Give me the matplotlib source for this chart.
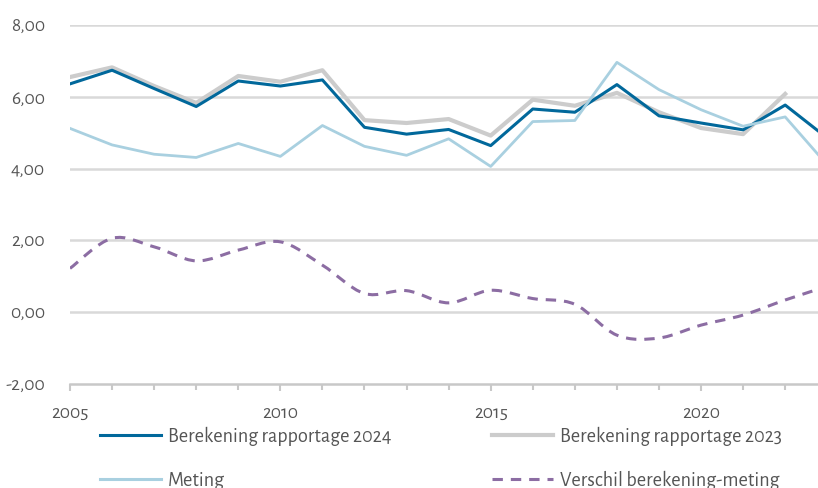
import numpy as np
import matplotlib
matplotlib.use("Agg")
import matplotlib.pyplot as plt
from matplotlib.path import Path
from matplotlib.patches import PathPatch
from matplotlib.lines import Line2D

years = list(range(2005, 2024))
calc_2024 = [6.36, 6.74, 6.23, 5.73, 6.44, 6.30, 6.47, 5.15, 4.96, 5.09,
             4.64, 5.66, 5.57, 6.34, 5.47, 5.27, 5.08, 5.77, 4.85]
calc_2023 = [6.55, 6.82, 6.30, 5.83, 6.58, 6.42, 6.74, 5.35, 5.27, 5.38,
             4.92, 5.92, 5.75, 6.11, 5.57, 5.13, 4.96, 6.08]
meting = [5.12, 4.66, 4.40, 4.31, 4.70, 4.34, 5.20, 4.62, 4.37, 4.83,
          4.06, 5.31, 5.34, 6.96, 6.20, 5.64, 5.18, 5.44, 4.10]
verschil = [1.22, 2.06, 1.82, 1.43, 1.73, 1.96, 1.31, 0.52, 0.60, 0.26,
            0.61, 0.38, 0.22, -0.64, -0.72, -0.36, -0.08, 0.34, 0.72]

labels = ["Berekening rapportage 2024", "Berekening rapportage 2023",
          "Meting", "Verschil berekening-meting"]
c_dark = "#01689b"
c_grey = "#cccccc"
c_light = "#a9d0e0"
c_purple = "#8c6da3"
c_text = "#555555"

plt.rcParams['font.family'] = ['Alegreya Sans', 'DejaVu Sans']
FS = 14
LFS = 14.6


def smooth_path(xs, ys):
    # cubic bezier through the points (Catmull-Rom style control points)
    pts = np.column_stack([xs, ys]).astype(float)
    verts = [pts[0]]
    codes = [Path.MOVETO]
    n = len(pts)
    for i in range(n - 1):
        p0 = pts[i - 1] if i > 0 else pts[i]
        p1 = pts[i]
        p2 = pts[i + 1]
        p3 = pts[i + 2] if i + 2 < n else pts[i + 1]
        verts += [p1 + (p2 - p0) / 6, p2 - (p3 - p1) / 6, p2]
        codes += [Path.CURVE4] * 3
    return Path(verts, codes)


fig = plt.figure(figsize=(8.18, 4.88), dpi=100)
ax = fig.add_axes([70 / 818, 1 - 384 / 488, 1 - 70 / 818, 359 / 488])

ax.plot(years[:len(calc_2023)], calc_2023, color=c_grey, lw=3.0, zorder=3)
ax.plot(years, calc_2024, color=c_dark, lw=2.2, zorder=4)
ax.plot(years, meting, color=c_light, lw=2.0, zorder=5)
ax.add_patch(PathPatch(smooth_path(years, verschil), fill=False,
                       edgecolor=c_purple, lw=2.2, linestyle=(0, (3.4, 2.6)),
                       zorder=6))

ax.set_xlim(2005, 2005 + 748 / 42.07)
ax.set_ylim(-2, 8)
ax.set_yticks(np.arange(-2, 9, 2))
ax.set_yticklabels([f"{v:.2f}".replace(".", ",") for v in np.arange(-2, 9, 2)])
ax.set_xticks([2005, 2010, 2015, 2020])
ax.set_xticks(range(2005, 2023), minor=True)

for v in range(0, 9, 2):
    ax.axhline(v, color="#d9d9d9", lw=1.8, zorder=1)

for s in ["top", "right", "left"]:
    ax.spines[s].set_visible(False)
ax.spines["bottom"].set_color("#c8c8c8")
ax.spines["bottom"].set_linewidth(1.8)
ax.tick_params(axis='y', length=0, pad=18, labelsize=FS, labelcolor=c_text)
ax.tick_params(axis='x', which='both', direction='out', length=5, width=1.5,
               color="#c8c8c8", labelsize=FS, labelcolor=c_text, pad=10)
ax.tick_params(axis='x', which='minor', length=4)

handles = [Line2D([], [], color=c_dark, lw=2.2),
           Line2D([], [], color=c_light, lw=2.2),
           Line2D([], [], color=c_grey, lw=3.0),
           Line2D([], [], color=c_purple, lw=2.2, linestyle=(0, (3.4, 2.6)))]
leg = fig.legend(handles, [labels[0], labels[2], labels[1], labels[3]],
                 ncol=2, loc="upper left", bbox_to_anchor=(100 / 818, 1 - 427 / 488),
                 frameon=False, fontsize=LFS, handlelength=3.0, handletextpad=0.35,
                 columnspacing=4.95, labelspacing=1.22, borderpad=0, borderaxespad=0)
for t in leg.get_texts():
    t.set_color(c_text)

fig.savefig("out.png", dpi=100)
